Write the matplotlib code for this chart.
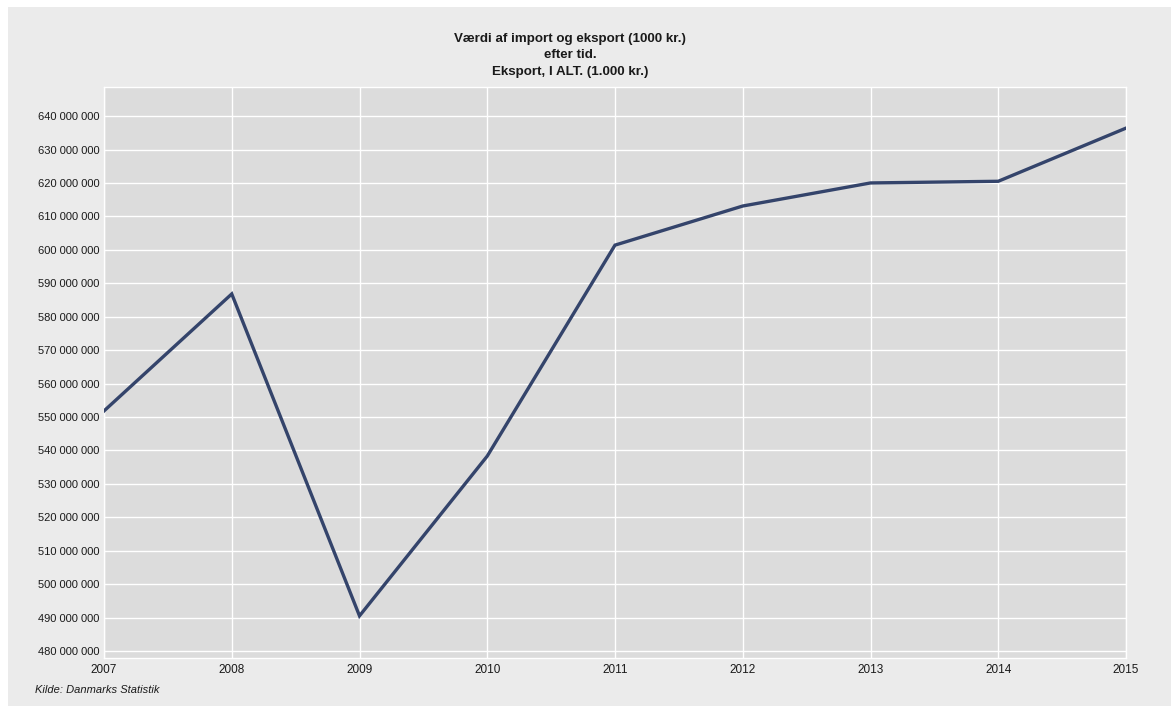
import matplotlib
matplotlib.use("Agg")
import matplotlib.pyplot as plt
from matplotlib.ticker import FuncFormatter, MultipleLocator
from matplotlib.patches import Rectangle

years = [2007, 2008, 2009, 2010, 2011, 2012, 2013, 2014, 2015]
eksport = [551.8e6, 586.8e6, 490.5e6, 538.3e6, 601.4e6, 613.1e6, 620.0e6, 620.5e6, 636.4e6]

title_lines = ["Værdi af import og eksport (1000 kr.)", "efter tid.", "Eksport, I ALT. (1.000 kr.)"]
source = "Kilde: Danmarks Statistik"

W, H = 1171, 706
plt.rcParams["font.family"] = ["Liberation Sans", "DejaVu Sans"]
fig = plt.figure(figsize=(W / 100, H / 100), dpi=100, facecolor="white")

# gray panel
fig.patches.append(Rectangle((8 / W, 0), 1 - 8 / W, 1 - 7 / H, transform=fig.transFigure,
                             facecolor="#EBEBEB", edgecolor="none", zorder=-10))

x0, x1, y0, y1 = 104, 1126, 87, 658
ax = fig.add_axes([x0 / W, 1 - y1 / H, (x1 - x0) / W, (y1 - y0) / H])
ax.set_zorder(1)
ax.set_facecolor("#DCDCDC")
ax.plot(years, eksport, color="#34446B", lw=2.4, solid_joinstyle="miter", zorder=3)

ax.set_xlim(2007, 2015)
ax.set_ylim(477.9e6, 648.7e6)
ax.xaxis.set_major_locator(MultipleLocator(1))
ax.yaxis.set_major_locator(MultipleLocator(10e6))
ax.yaxis.set_major_formatter(FuncFormatter(lambda v, p: f"{int(round(v)):,}".replace(",", " ")))
ax.grid(True, color="white", lw=1.0, zorder=1)
ax.set_axisbelow(True)
for s in ax.spines.values():
    s.set_color("white")
    s.set_linewidth(1.0)
ax.tick_params(length=0, labelsize=8, colors="#1a1a1a", pad=3)
ax.tick_params(axis="x", labelsize=8.5, pad=4)

ty = [39, 55.5, 72]
for t, yy in zip(title_lines, ty):
    fig.text(570 / W, 1 - yy / H, t, ha="center", va="center", fontsize=9.6,
             fontweight="bold", color="#1a1a1a")

fig.text(35 / W, 1 - 690 / H, source, ha="left", va="center", fontsize=8,
         style="italic", color="#1a1a1a")

fig.savefig("out.png", dpi=100, facecolor="white")
